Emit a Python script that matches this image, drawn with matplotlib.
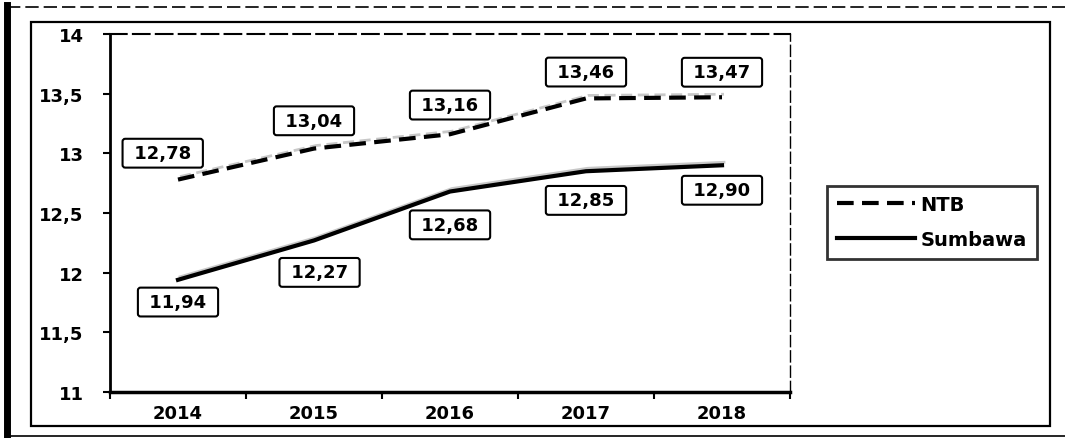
import matplotlib
matplotlib.use("Agg")
import matplotlib.pyplot as plt
from matplotlib.patches import Rectangle
from matplotlib.lines import Line2D
from matplotlib.transforms import ScaledTranslation

years = ["2014", "2015", "2016", "2017", "2018"]
ntb = [12.78, 13.04, 13.16, 13.46, 13.47]
sumbawa = [11.94, 12.27, 12.68, 12.85, 12.90]
y_ticks = [11, 11.5, 12, 12.5, 13, 13.5, 14]

W, H = 1065, 439
fig = plt.figure(figsize=(W / 100, H / 100), dpi=100)

# Rahmen aussen (Scan-Optik)
fig.add_artist(Line2D([7 / W, 7 / W], [0, 1 - 6 / H], color="black", lw=5))
fig.add_artist(Line2D([7 / W, 1], [1 - 8 / H, 1 - 8 / H], color="black", lw=1.2, ls=(0, (8, 3))))
fig.add_artist(Line2D([7 / W, 1], [1 - 437 / H, 1 - 437 / H], color="black", lw=1.2))
# Diagrammbereich
fig.add_artist(Rectangle((31 / W, 1 - 427 / H), (1050 - 31) / W, (427 - 23) / H,
                         transform=fig.transFigure, fill=False, ec="black", lw=1.6))

ax = fig.add_axes([110 / W, 1 - 393 / H, (790 - 110) / W, (393 - 35) / H])
x = list(range(len(years)))

shadow = ax.transData + ScaledTranslation(0.02, 0.03, fig.dpi_scale_trans)
ax.plot(x, ntb, color="#c8c8c8", lw=2, ls=(0, (4, 2)), zorder=2, transform=shadow)
ax.plot(x, sumbawa, color="#c8c8c8", lw=2, zorder=2, transform=shadow)
ax.plot(x, ntb, color="black", lw=3, ls=(0, (4, 2)), label="NTB", zorder=3)
ax.plot(x, sumbawa, color="black", lw=3, label="Sumbawa", zorder=3)

box = dict(boxstyle="round,pad=0.3,rounding_size=0.15", fc="white", ec="black", lw=1.5)
ntb_off = [(-11, 19), (0, 20), (0, 21), (0, 19), (0, 18)]
sum_off = [(0, -16), (4, -23), (0, -24), (0, -21), (0, -18)]
for i in x:
    ax.annotate(" " + f"{ntb[i]:.2f}".replace(".", ",") + " ", (i, ntb[i]), xytext=ntb_off[i],
                textcoords="offset points", ha="center", va="center",
                fontsize=13, fontweight="bold", bbox=box, zorder=4)
    ax.annotate(" " + f"{sumbawa[i]:.2f}".replace(".", ",") + " ", (i, sumbawa[i]), xytext=sum_off[i],
                textcoords="offset points", ha="center", va="center",
                fontsize=13, fontweight="bold", bbox=box, zorder=4)

ax.set_xlim(-0.5, len(years) - 0.5)
ax.set_ylim(11, 14)
ax.set_yticks(y_ticks)
ax.set_yticklabels([f"{v:g}".replace(".", ",") for v in y_ticks],
                   fontsize=13, fontweight="bold")
ax.set_xticks(x)
ax.set_xticklabels(years, fontsize=13, fontweight="bold")
ax.set_xticks([i - 0.5 for i in range(len(years) + 1)], minor=True)
ax.tick_params(axis="x", which="major", length=0, pad=9)
ax.tick_params(axis="x", which="minor", length=5, width=1.5, direction="out")
ax.tick_params(axis="y", length=5, width=1.5, direction="out", pad=14)

ax.spines["left"].set_linewidth(2)
ax.spines["bottom"].set_linewidth(2.5)
ax.spines["top"].set_linewidth(1.5)
ax.spines["top"].set_linestyle((0, (8, 3)))
ax.spines["right"].set_linewidth(1)
ax.spines["right"].set_linestyle((0, (8, 3)))

leg = fig.legend(loc="center", bbox_to_anchor=(932 / W, 1 - 223 / H), frameon=True,
                 fancybox=False, handlelength=4.0, handletextpad=0.3, labelspacing=0.8,
                 prop={"weight": "bold", "size": 14}, borderpad=0.5)
leg.get_frame().set_edgecolor("black")
leg.get_frame().set_linewidth(2)

fig.savefig("out.png", dpi=100)
